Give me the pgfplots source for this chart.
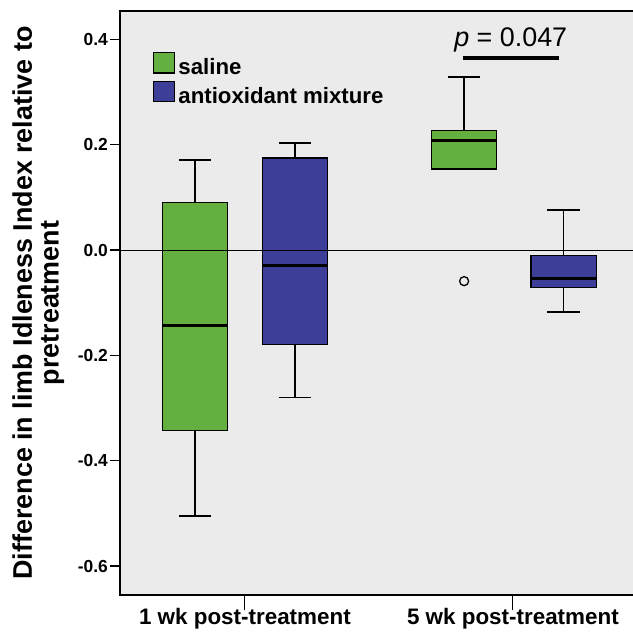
\documentclass[border=0pt]{standalone}
\usepackage{pgfplots}
\pgfplotsset{compat=1.18}
\usepackage{fontspec}
\setmainfont{Liberation Sans}

\definecolor{sgreen}{RGB}{99,176,64}
\definecolor{sblue}{RGB}{60,62,152}
\definecolor{bg}{RGB}{235,235,235}

\pgfplotsset{
  sqleg/.style={legend image code/.code={%
      \draw[##1, draw=black, line width=1.2bp] (0bp,-5.5bp) rectangle (20.6bp,15.1bp);
      \path (22.8bp,0bp);}},
  whisk/.style={black, line width=1.8bp, forget plot},
  boxfill/.style={fill=#1, draw=black, line width=1.2bp, forget plot},
  med/.style={black, line width=3bp, forget plot},
}

\begin{document}
\begin{tikzpicture}
\begin{axis}[
  scale only axis, width=515bp, height=584bp,
  xmin=0.534, xmax=2.4556, ymin=-0.655, ymax=0.454,
  axis background/.style={fill=bg},
  axis line style={black, line width=1.5bp},
  xtick={1,2}, xticklabels={1 wk post-treatment,5 wk post-treatment},
  ytick={-0.6,-0.4,-0.2,0,0.2,0.4},
  yticklabels={-0.6,-0.4,-0.2,0.0,0.2,0.4},
  xtick pos=bottom, ytick pos=left,
  tick align=outside, major tick length=10bp,
  tick style={black, line width=1.2bp},
  xtick style={/pgfplots/major tick length=15bp},
  yticklabel style={font=\bfseries\fontsize{17.5}{17.5}\selectfont, inner sep=2bp},
  xticklabel style={font=\bfseries\fontsize{22.5}{22.5}\selectfont},
  ylabel={Difference in limb Idleness Index relative to\\pretreatment},
  ylabel style={font=\bfseries\fontsize{27}{27}\selectfont, align=center, yshift=8bp},
  legend style={at={(0.0635,0.9303)}, anchor=north west, draw=none, fill=none,
    inner sep=0pt, row sep=2.3bp, font=\bfseries\fontsize{22.3}{22.3}\selectfont},
  legend cell align=left,
]
\addlegendimage{sqleg, fill=sgreen}
\addlegendentry{saline}
\addlegendimage{sqleg, fill=sblue}
\addlegendentry{antioxidant mixture}

% ---- 1 wk, saline: whiskers -0.505 / 0.171, box -0.342..0.090, median -0.144
\addplot[whisk] coordinates {(0.815,-0.505) (0.815,0.171)};
\addplot[whisk] coordinates {(0.755,-0.505) (0.875,-0.505)};
\addplot[whisk] coordinates {(0.755,0.171) (0.875,0.171)};
\addplot[boxfill=sgreen] coordinates {(0.6935,-0.342) (0.9365,-0.342) (0.9365,0.090) (0.6935,0.090)} -- cycle;
\addplot[med] coordinates {(0.6935,-0.144) (0.9365,-0.144)};

% ---- 1 wk, antioxidant: whiskers -0.280 / 0.204, box -0.179..0.175, median -0.030
\addplot[whisk] coordinates {(1.187,-0.280) (1.187,0.204)};
\addplot[whisk] coordinates {(1.127,-0.280) (1.247,-0.280)};
\addplot[whisk] coordinates {(1.127,0.204) (1.247,0.204)};
\addplot[boxfill=sblue] coordinates {(1.0655,-0.179) (1.3085,-0.179) (1.3085,0.175) (1.0655,0.175)} -- cycle;
\addplot[med] coordinates {(1.0655,-0.030) (1.3085,-0.030)};

% ---- 5 wk, saline: whiskers 0.153 / 0.329, box 0.154..0.227, median 0.209, outlier -0.059
\addplot[whisk] coordinates {(1.818,0.153) (1.818,0.329)};
\addplot[whisk] coordinates {(1.758,0.153) (1.878,0.153)};
\addplot[whisk] coordinates {(1.758,0.329) (1.878,0.329)};
\addplot[boxfill=sgreen] coordinates {(1.6965,0.154) (1.9395,0.154) (1.9395,0.227) (1.6965,0.227)} -- cycle;
\addplot[med] coordinates {(1.6965,0.209) (1.9395,0.209)};
\addplot[only marks, mark=o, mark size=4.5bp, black, line width=1.3bp, forget plot] coordinates {(1.818,-0.059)};

% ---- 5 wk, antioxidant: whiskers -0.118 / 0.076, box -0.071..-0.011, median -0.054
\addplot[whisk] coordinates {(2.189,-0.118) (2.189,0.076)};
\addplot[whisk] coordinates {(2.129,-0.118) (2.249,-0.118)};
\addplot[whisk] coordinates {(2.129,0.076) (2.249,0.076)};
\addplot[boxfill=sblue] coordinates {(2.0675,-0.071) (2.3105,-0.071) (2.3105,-0.011) (2.0675,-0.011)} -- cycle;
\addplot[med] coordinates {(2.0675,-0.054) (2.3105,-0.054)};

% reference line at zero
\addplot[black, line width=0.8bp, forget plot] coordinates {(0.534,0) (2.4556,0)};
% significance bar
\addplot[black, line width=4bp, forget plot] coordinates {(1.813,0.364) (2.173,0.364)};
\node[font=\fontsize{27}{27}\selectfont, anchor=base] at (axis cs:1.992,0.386) {\textit{p} = 0.047};

\coordinate (BL) at (rel axis cs:0,0);
\end{axis}
\pgfresetboundingbox
\path (BL) ++(-120bp,-43bp) rectangle ++(633bp,638bp);
\end{tikzpicture}
\end{document}
